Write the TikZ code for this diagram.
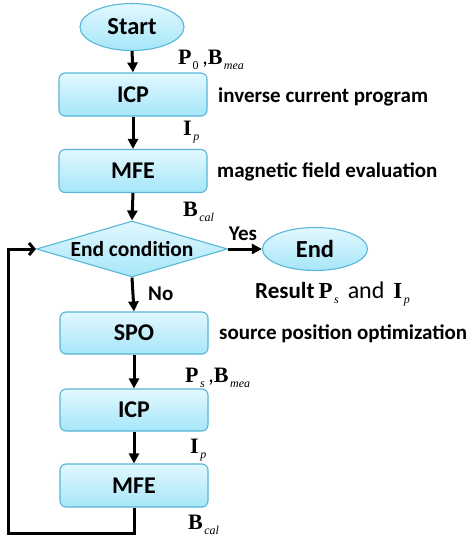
\documentclass[tikz,border=0pt]{standalone}
\usepackage{fontspec}
\setmainfont{Carlito}
\newfontfamily\tms{Liberation Serif}
\usetikzlibrary{shapes.geometric,arrows.meta}
\definecolor{boxtop}{HTML}{E2F8FE}
\definecolor{boxbot}{HTML}{A6E6F9}
\definecolor{boxline}{HTML}{58B6D6}
\newcommand{\vecsub}[2]{{\tms\bfseries #1}\hspace{1.5pt}\raisebox{-5pt}{\fontsize{12}{12}\selectfont\tms\itshape #2}}
\newcommand{\vecsubup}[2]{{\tms\bfseries #1}\hspace{1pt}\raisebox{-5pt}{\fontsize{12}{12}\selectfont\tms #2}}
\tikzset{
  blk/.style={draw=boxline, line width=1.1pt, top color=boxtop, bottom color=boxbot,
    rounded corners=6pt, minimum width=148pt, minimum height=43pt, inner sep=0pt,
    font=\fontsize{24}{24}\selectfont\bfseries},
  term/.style={ellipse, draw=boxline, line width=1.1pt, top color=boxtop, bottom color=boxbot,
    inner sep=0pt, font=\fontsize{24.5}{24.5}\selectfont\bfseries},
  cond/.style={diamond, draw=boxline, line width=1.1pt, top color=boxtop, bottom color=boxbot,
    inner sep=-4pt, minimum width=191pt, minimum height=56pt, aspect=3.4,
    font=\fontsize{21.5}{21.5}\selectfont\bfseries},
  side/.style={anchor=west, inner sep=0pt, font=\fontsize{21}{21}\selectfont\bfseries},
  mlab/.style={anchor=west, inner sep=0pt, font=\fontsize{22}{22}\selectfont},
  flow/.style={line width=3pt, -{Triangle[length=10pt,width=10pt]}},
  back/.style={line width=3pt, -{Straight Barb[length=5pt,width=12pt,line width=3pt]}}
}
\begin{document}
\begin{tikzpicture}[x=1pt,y=-1pt]
\useasboundingbox (0,0) rectangle (474,542);
\node[term, minimum width=104pt, minimum height=47pt] (start) at (132,27) {Start};
\node[blk] (icp1) at (133,94.5) {ICP};
\node[blk] (mfe1) at (133,171) {MFE};
\node[cond] (cnd) at (132,249) {End condition};
\node[term, minimum width=105pt, minimum height=43pt] (endn) at (315,249) {End};
\node[blk, minimum height=42pt] (spo) at (134,333) {SPO};
\node[blk, minimum height=42pt] (icp2) at (134,410) {ICP};
\node[blk] (mfe2) at (134,485.5) {MFE};
\coordinate (c1) at (134,533);
\coordinate (c2) at (8,533);
\coordinate (c3) at (8,249);

\draw[flow] (start.south) -- (icp1.north);
\draw[flow] (icp1.south) -- (mfe1.north);
\draw[flow] (mfe1.south) -- (cnd.north);
\draw[flow] (cnd.east) -- (endn.west);
\draw[flow] (cnd.south) -- (spo.north);
\draw[flow] (spo.south) -- (icp2.north);
\draw[flow] (icp2.south) -- (mfe2.north);
\draw[back] (mfe2.south) -- (c1) -- (c2) -- (c3) -- (cnd.west);

\node[mlab] (l1) at (178,60) {\vecsubup{P}{0}\,,\vecsub{B}{mea}};
\node[side] (s1) at (218,97) {inverse current program};
\node[mlab] (l2) at (183,132) {\vecsub{I}{p}};
\node[side] (s2) at (217,172) {magnetic field evaluation};
\node[mlab] (l3) at (183,212) {\vecsub{B}{cal}};
\node[side, anchor=center] (yes) at (243,234) {Yes};
\node[side] (no) at (148,294) {No};
\node[side, font=\fontsize{23}{23}\selectfont\bfseries] (res) at (255,294) {Result\hspace{4pt}\normalfont\fontsize{23}{23}\selectfont\vecsub{P}{s}\hspace{9pt}\fontsize{24}{24}\selectfont and\hspace{9pt}\fontsize{23}{23}\selectfont\vecsub{I}{p}};
\node[side] (s3) at (219,334) {source position optimization};
\node[mlab] (l4) at (185,378) {\vecsub{P}{s}\,,\vecsub{B}{mea}};
\node[mlab] (l5) at (190,450) {\vecsub{I}{p}};
\node[mlab] (l6) at (188,525) {\vecsub{B}{cal}};
\end{tikzpicture}
\end{document}
